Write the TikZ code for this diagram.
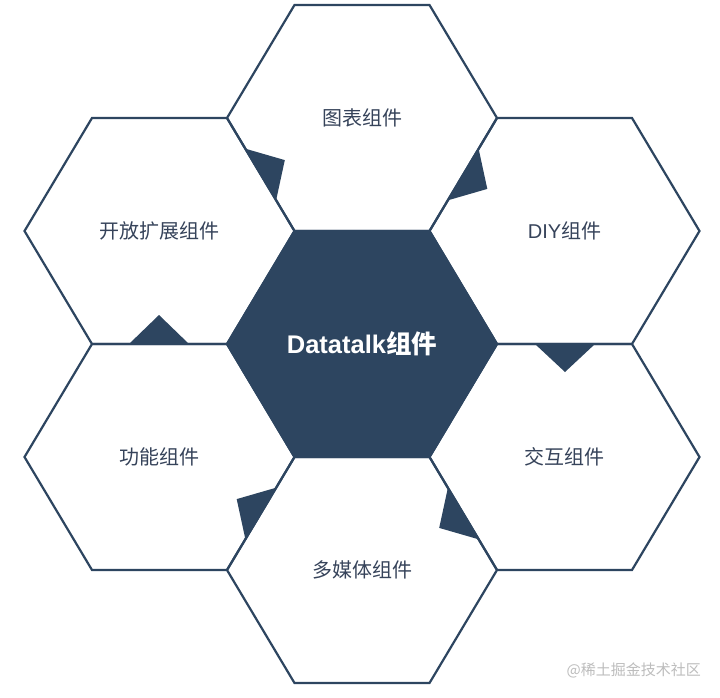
\documentclass[tikz,border=0pt]{standalone}
\usepackage{fontspec}
\usetikzlibrary{calc}
\newfontfamily\cjk{Noto Sans CJK SC}
\newfontfamily\lat{Liberation Sans}
\definecolor{navy}{HTML}{2D4560}
\definecolor{labelc}{HTML}{36435A}
\definecolor{wm}{HTML}{BDBDBD}
\tikzset{
 hexline/.style={draw=navy, line width=2.2pt, line join=miter},
 tooth/.style={fill=navy},
 lbl/.style={text=labelc, font=\fontsize{20}{22}\selectfont\cjk, inner sep=0pt},
 ctr/.style={text=white, font=\fontsize{25.5}{28}\selectfont\bfseries\cjk, inner sep=0pt},
 wmark/.style={text=wm, font=\fontsize{15}{17}\selectfont\cjk, inner sep=0pt, anchor=east},
}
\newcommand\hexat[1]{($(#1)+(-135,0)$) -- ($(#1)+(-67.5,-113)$) -- ($(#1)+(67.5,-113)$) -- ($(#1)+(135,0)$) -- ($(#1)+(67.5,113)$) -- ($(#1)+(-67.5,113)$) -- cycle}
\begin{document}
\begin{tikzpicture}[x=1pt,y=-1pt]
\useasboundingbox (0,0) rectangle (720,697);
\fill[white] (0,0) rectangle (720,697);
\coordinate (C) at (362,344);
\coordinate (T) at (362,118);
\coordinate (UL) at (159.5,231);
\coordinate (UR) at (564.5,231);
\coordinate (LL) at (159.5,457);
\coordinate (LR) at (564.5,457);
\coordinate (B) at (362,570);
\fill[navy] \hexat{C};
\foreach \h in {C,T,UL,UR,LL,LR,B} \draw[hexline] \hexat{\h};
% teeth (clockwise pointers)
\fill[tooth] (245.4,148.7) -- (276.1,200.3) -- (284.8,160.1) -- cycle;
\fill[tooth] (478.6,148.7) -- (447.9,200.3) -- (487.3,188.9) -- cycle;
\fill[tooth] (535,344) -- (595,344) -- (565,372) -- cycle;
\fill[tooth] (447.9,487.7) -- (478.6,539.3) -- (439.2,527.9) -- cycle;
\fill[tooth] (276.1,487.7) -- (245.4,539.3) -- (236.7,499.1) -- cycle;
\fill[tooth] (129,344) -- (189,344) -- (159,315) -- cycle;
% labels
\node[ctr] (nC) at (C) {{\lat Datatalk}组件};
\node[lbl] (nT) at (T) {图表组件};
\node[lbl] (nUL) at (UL) {开放扩展组件};
\node[lbl] (nUR) at (UR) {{\lat DIY}组件};
\node[lbl] (nLL) at (LL) {功能组件};
\node[lbl] (nLR) at (LR) {交互组件};
\node[lbl] (nB) at (B) {多媒体组件};
\node[wmark] (wmk) at (701,670) {@稀土掘金技术社区};
\end{tikzpicture}
\end{document}
